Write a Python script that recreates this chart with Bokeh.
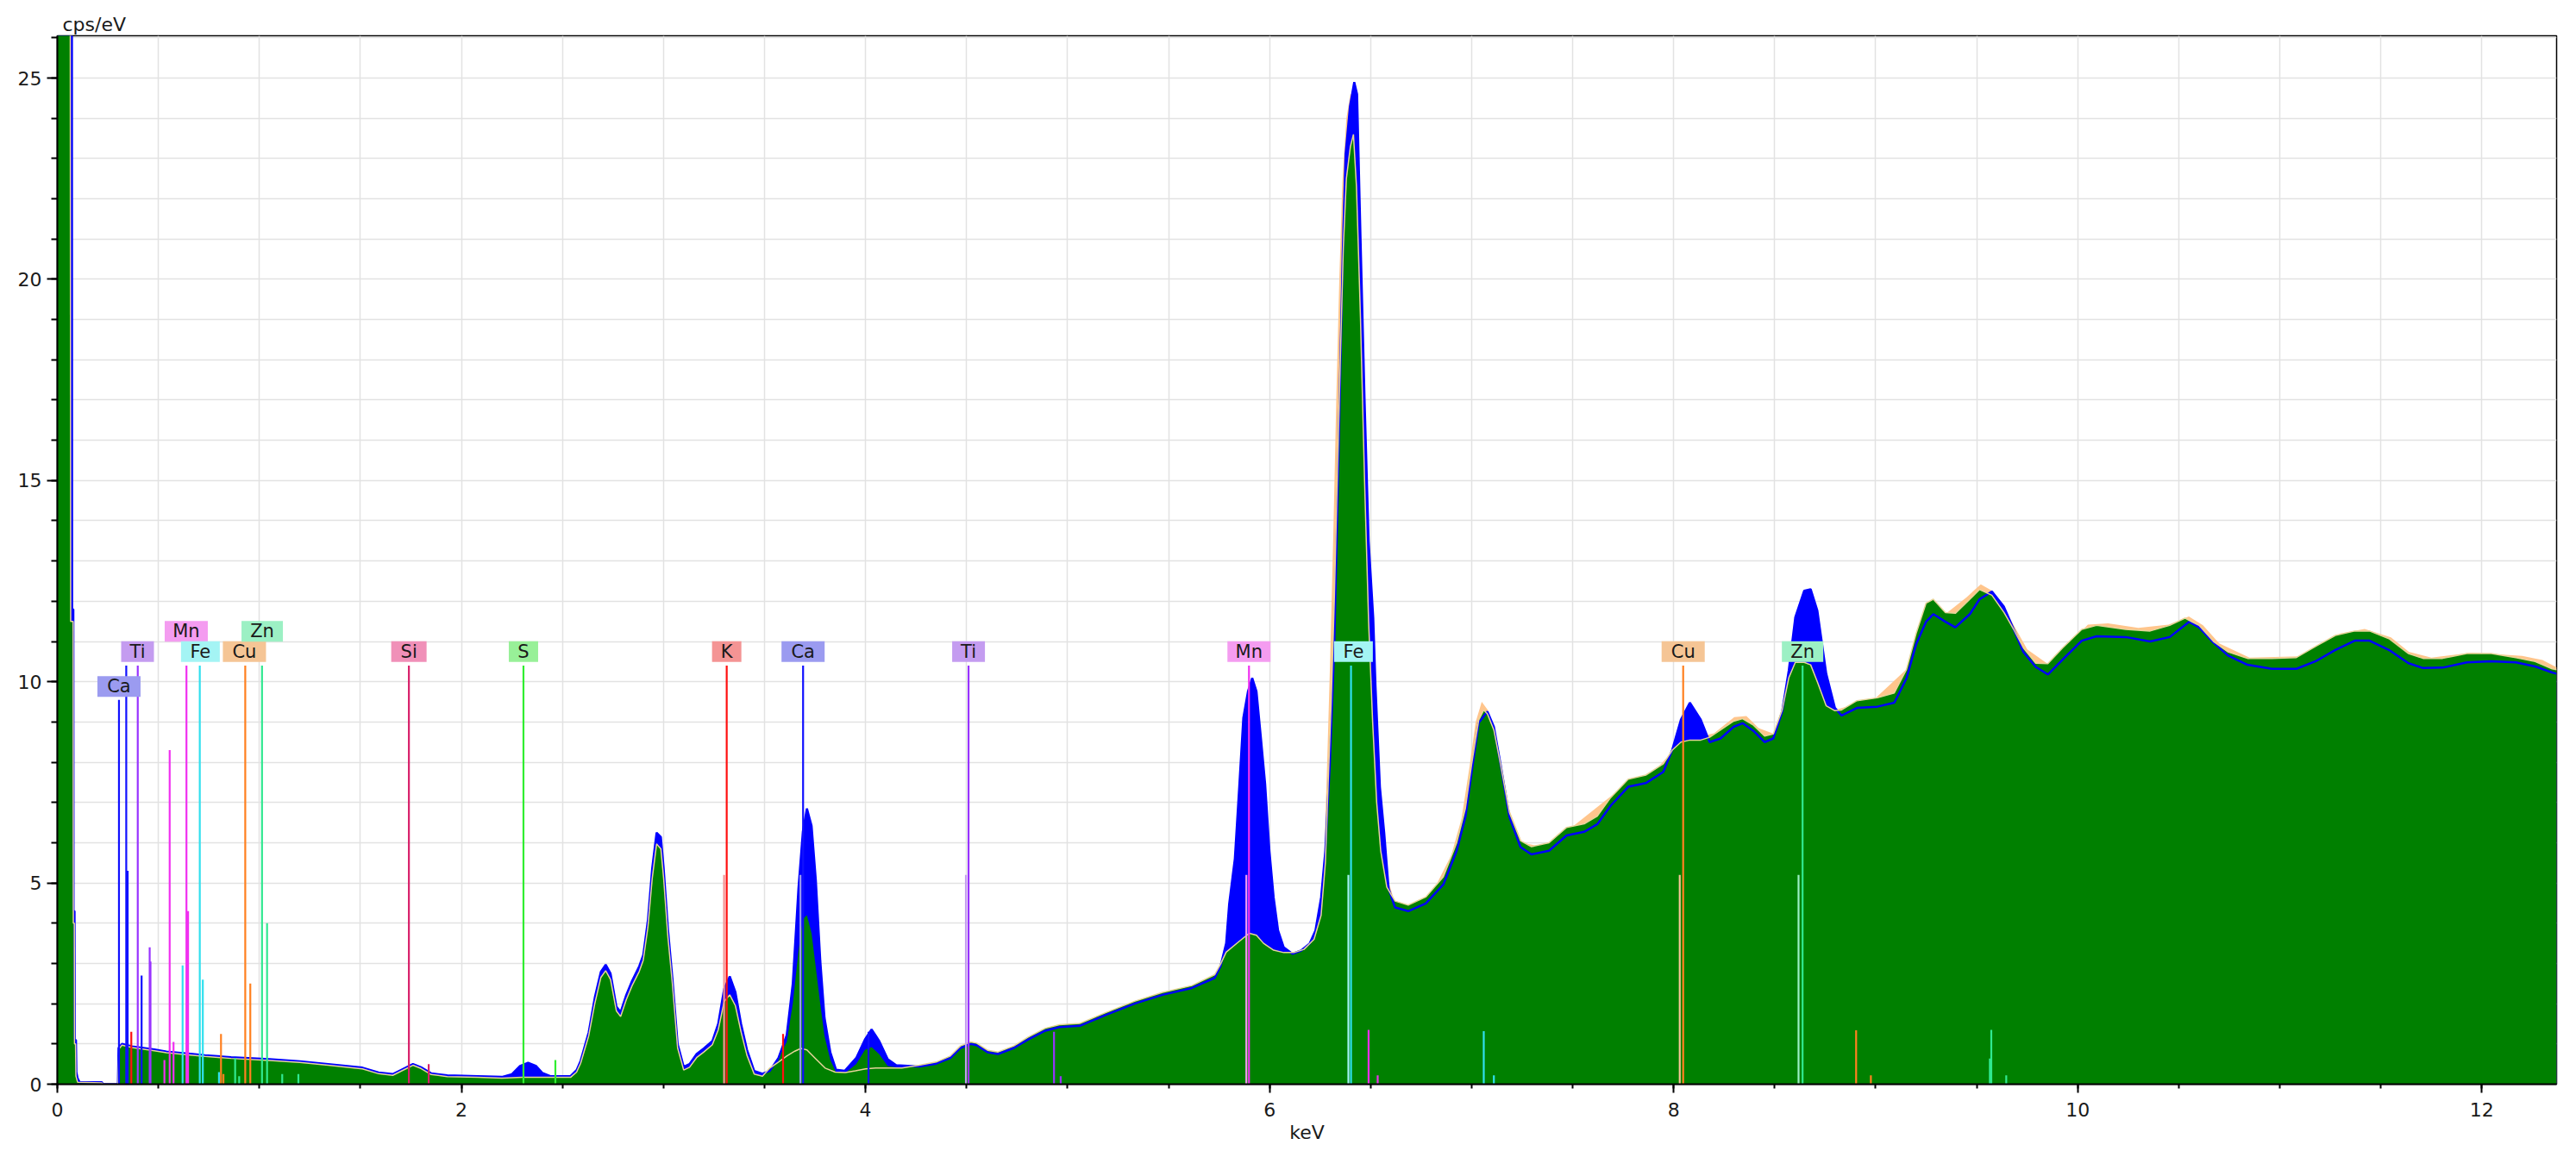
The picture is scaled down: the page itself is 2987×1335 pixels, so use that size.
from bokeh.plotting import figure
from bokeh.models import ColumnDataSource, FixedTicker, Range1d
from bokeh.core.properties import value
from bokeh.embed import file_html
from bokeh.resources import INLINE

# ---------------- data ----------------
blue_kev = [0.0, 0.072, 0.073, 0.079, 0.080, 0.085, 0.086, 0.092, 0.094, 0.10, 0.11, 0.22, 0.225, 0.30,
            0.303, 0.32, 0.37, 0.48, 0.54, 0.67, 0.73, 0.86, 1.05, 1.20, 1.34, 1.51, 1.59, 1.66, 1.72, 1.76,
            1.80, 1.85, 1.93, 2.08, 2.20, 2.25, 2.29, 2.33, 2.37, 2.40, 2.44, 2.54, 2.57, 2.59, 2.63, 2.66,
            2.69, 2.714, 2.738, 2.767, 2.788, 2.816, 2.845, 2.88, 2.90, 2.923, 2.944, 2.966, 2.987, 3.001,
            3.022, 3.044, 3.07, 3.10, 3.129, 3.164, 3.20, 3.242, 3.271, 3.30, 3.328, 3.356, 3.384, 3.413,
            3.449, 3.49, 3.526, 3.569, 3.61, 3.64, 3.668, 3.69, 3.71, 3.733, 3.754, 3.776, 3.797, 3.826,
            3.854, 3.897, 3.954, 3.997, 4.03, 4.067, 4.11, 4.152, 4.266, 4.35, 4.42, 4.47, 4.52, 4.55,
            4.606, 4.656, 4.734, 4.805, 4.89, 4.96, 5.06, 5.19, 5.331, 5.47, 5.615, 5.728, 5.757, 5.785,
            5.80, 5.828, 5.85, 5.87, 5.893, 5.914, 5.935, 5.957, 5.978, 5.999, 6.02, 6.042, 6.07, 6.113,
            6.156, 6.198, 6.227, 6.255, 6.276, 6.298, 6.32, 6.334, 6.348, 6.362, 6.376, 6.398, 6.419,
            6.433, 6.45, 6.47, 6.49, 6.513, 6.524, 6.546, 6.567, 6.589, 6.621, 6.686, 6.773, 6.86, 6.926,
            6.969, 7.0, 7.035, 7.078, 7.11, 7.143, 7.187, 7.242, 7.296, 7.383, 7.47, 7.557, 7.622, 7.688,
            7.775, 7.862, 7.949, 7.993, 8.036, 8.08, 8.134, 8.178, 8.232, 8.297, 8.341, 8.395, 8.45,
            8.493, 8.537, 8.57, 8.602, 8.646, 8.678, 8.711, 8.755, 8.798, 8.831, 8.907, 9.008, 9.092,
            9.152, 9.20, 9.249, 9.285, 9.345, 9.394, 9.466, 9.514, 9.575, 9.635, 9.683, 9.731, 9.792,
            9.852, 9.925, 10.02, 10.093, 10.237, 10.358, 10.455, 10.551, 10.60, 10.672, 10.744, 10.84,
            10.961, 11.082, 11.178, 11.275, 11.371, 11.444, 11.54, 11.637, 11.709, 11.806, 11.926,
            12.047, 12.168, 12.264, 12.348, 12.37]
blue_cps = [26.1, 26.1, 11.8, 11.8, 4.3, 4.3, 1.1, 1.1, 0.3, 0.15, 0.05, 0.05, 0.0, 0.0,
            0.90, 1.0, 0.94, 0.86, 0.81, 0.75, 0.72, 0.67, 0.62, 0.57, 0.50, 0.41, 0.29, 0.25, 0.40, 0.50,
            0.42, 0.27, 0.22, 0.20, 0.18, 0.25, 0.45, 0.53, 0.45, 0.28, 0.20, 0.20, 0.35, 0.58, 1.29, 2.15,
            2.79, 2.97, 2.75, 1.93, 1.79, 2.22, 2.57, 2.93, 3.21, 4.07, 5.35, 6.25, 6.14, 5.35,
            3.86, 2.64, 1.0, 0.43, 0.50, 0.75, 0.89, 1.07, 1.50, 2.36, 2.68, 2.29, 1.50, 0.86,
            0.33, 0.26, 0.33, 0.65, 1.22, 2.50, 4.85, 6.28, 6.85, 6.42, 5.07, 3.07, 1.65, 0.79,
            0.36, 0.33, 0.65, 1.11, 1.36, 1.08, 0.62, 0.47, 0.44, 0.51, 0.65, 0.90, 1.0, 0.97,
            0.79, 0.75, 0.90, 1.11, 1.33, 1.42, 1.45, 1.72, 2.0, 2.22, 2.39, 2.64, 2.93, 3.5,
            4.48, 5.6, 7.4, 9.1, 9.76, 10.09, 9.76, 8.6, 7.45, 5.8, 4.64, 3.82, 3.4, 3.24,
            3.32, 3.49, 3.82, 4.64, 5.8, 7.95, 10.9, 14.0, 17.3, 20.6, 23.1, 24.3, 24.9,
            24.6, 21.0, 17.0, 13.5, 11.58, 9.9, 7.38, 6.26, 4.86, 4.39, 4.3, 4.49, 4.96, 5.8,
            6.64, 7.76, 8.98, 9.26, 8.88, 7.95, 6.64, 5.89, 5.71, 5.8, 6.18, 6.27, 6.46, 6.92,
            7.39, 7.48, 7.76, 8.31, 9.06, 9.48, 9.06, 8.5, 8.59, 8.88, 8.97, 8.78, 8.5,
            8.59, 9.26, 10.29, 11.6, 12.26, 12.3, 11.77, 10.2, 9.35, 9.16, 9.35, 9.38, 9.48,
            10.08, 10.93, 11.49, 11.68, 11.49, 11.35, 11.68, 12.05, 12.24, 11.86, 11.3, 10.74, 10.37,
            10.18, 10.55, 11.02, 11.13, 11.11, 11.0, 11.11, 11.49, 11.35, 10.97, 10.65, 10.42,
            10.32, 10.32, 10.51, 10.79, 11.02, 11.02, 10.79, 10.46, 10.34, 10.35, 10.48,
            10.51, 10.48, 10.38, 10.23, 10.2]

green_kev = [0.0, 0.064, 0.066, 0.078, 0.079, 0.084, 0.085, 0.09, 0.092, 0.10, 0.22, 0.225, 0.30,
             0.305, 0.32, 0.37, 0.48, 0.54, 0.67, 0.73, 0.86, 1.05, 1.20, 1.34, 1.51, 1.59, 1.66, 1.72,
             1.76, 1.80, 1.85, 1.93, 2.08, 2.20, 2.30, 2.40, 2.54, 2.57, 2.59, 2.63, 2.66, 2.69, 2.714,
             2.738, 2.767, 2.788, 2.816, 2.845, 2.88, 2.90, 2.923, 2.944, 2.966, 2.987, 3.001, 3.022,
             3.044, 3.07, 3.10, 3.129, 3.164, 3.20, 3.242, 3.271, 3.30, 3.328, 3.356, 3.384, 3.413,
             3.449, 3.49, 3.526, 3.569, 3.61, 3.65, 3.68, 3.71, 3.75, 3.80, 3.85, 3.90, 3.95, 4.0,
             4.05, 4.11, 4.18, 4.266, 4.35, 4.42, 4.47, 4.52, 4.55, 4.606, 4.656, 4.734, 4.805, 4.89,
             4.96, 5.06, 5.19, 5.331, 5.47, 5.615, 5.728, 5.757, 5.785, 5.85, 5.90, 5.935, 5.97, 6.02,
             6.07, 6.12, 6.17, 6.22, 6.255, 6.276, 6.29, 6.305, 6.32, 6.335, 6.35, 6.365, 6.38, 6.40,
             6.415, 6.43, 6.45, 6.47, 6.49, 6.51, 6.53, 6.55, 6.58, 6.621, 6.686, 6.773, 6.86, 6.926,
             6.969, 7.0, 7.035, 7.06, 7.078, 7.11, 7.143, 7.187, 7.242, 7.296, 7.383, 7.47, 7.557,
             7.622, 7.688, 7.775, 7.862, 7.949, 7.993, 8.036, 8.08, 8.134, 8.178, 8.232, 8.297, 8.341,
             8.395, 8.45, 8.493, 8.537, 8.57, 8.602, 8.646, 8.678, 8.711, 8.755, 8.798, 8.831, 8.907,
             9.008, 9.092, 9.152, 9.20, 9.249, 9.285, 9.345, 9.394, 9.466, 9.514, 9.575, 9.635, 9.683,
             9.731, 9.792, 9.852, 9.925, 10.02, 10.093, 10.237, 10.358, 10.455, 10.53, 10.60, 10.672,
             10.744, 10.84, 10.961, 11.082, 11.178, 11.275, 11.371, 11.444, 11.54, 11.637, 11.709,
             11.806, 11.926, 12.047, 12.168, 12.264, 12.348, 12.37]
green_cps = [26.1, 26.1, 11.5, 11.5, 4.0, 4.0, 1.0, 1.0, 0.2, 0.05, 0.03, 0.0, 0.0,
             0.88, 0.97, 0.91, 0.83, 0.78, 0.72, 0.69, 0.64, 0.59, 0.54, 0.47, 0.38, 0.26, 0.22, 0.37,
             0.47, 0.39, 0.24, 0.19, 0.17, 0.15, 0.17, 0.17, 0.17, 0.30, 0.52, 1.20, 2.0, 2.65, 2.82,
             2.6, 1.82, 1.68, 2.1, 2.45, 2.8, 3.08, 3.9, 5.1, 5.97, 5.85, 5.1, 3.65,
             2.5, 0.9, 0.35, 0.42, 0.66, 0.80, 0.98, 1.35, 2.05, 2.22, 1.95, 1.30, 0.72,
             0.25, 0.20, 0.40, 0.55, 0.70, 0.82, 0.89, 0.85, 0.65, 0.40, 0.30, 0.29, 0.33, 0.38,
             0.40, 0.40, 0.40, 0.47, 0.55, 0.70, 0.95, 1.05, 1.02, 0.84, 0.80, 0.95, 1.17, 1.39,
             1.48, 1.51, 1.78, 2.06, 2.28, 2.45, 2.72, 2.98, 3.28, 3.55, 3.75, 3.70, 3.50, 3.33,
             3.27, 3.27, 3.35, 3.60, 4.2, 5.5, 7.5, 9.5, 12.0, 15.0, 18.0, 20.8, 22.5, 23.3,
             23.6, 22.3, 19.0, 15.0, 11.5, 9.0, 7.0, 5.8, 4.9, 4.55, 4.45, 4.65, 5.15, 6.0,
             6.85, 7.95, 9.05, 9.3, 9.2, 8.8, 7.95, 6.75, 6.05, 5.9, 6.0, 6.38, 6.47,
             6.66, 7.12, 7.58, 7.68, 7.96, 8.3, 8.5, 8.55, 8.55, 8.62, 8.8, 9.02, 9.08,
             8.92, 8.65, 8.7, 9.3, 10.1, 10.48, 10.48, 10.42, 10.0, 9.4, 9.28, 9.3, 9.53,
             9.6, 9.72, 10.3, 11.2, 11.95, 12.05, 11.72, 11.7, 12.05, 12.29, 12.15, 11.72, 11.3,
             10.84, 10.46, 10.45, 10.84, 11.3, 11.4, 11.3, 11.26, 11.4, 11.58, 11.4, 11.0,
             10.74, 10.58, 10.58, 10.6, 10.88, 11.15, 11.26, 11.26, 11.07, 10.7, 10.58,
             10.58, 10.7, 10.7, 10.6, 10.5, 10.32, 10.3]

# green fill of the Ca K peaks that rises above the fitted (tan) curve
ca_fill_kev = [3.569, 3.61, 3.64, 3.668, 3.69, 3.71, 3.733, 3.754, 3.776, 3.797, 3.826, 3.854, 3.897,
               3.954, 3.997, 4.03, 4.067, 4.11, 4.152]
ca_fill_cps = [0.65, 1.05, 2.0, 3.3, 4.1, 4.2, 3.75, 2.9, 2.0, 1.2, 0.6, 0.3, 0.27,
               0.5, 0.85, 0.92, 0.75, 0.45, 0.42]

peach_kev = [6.20, 6.25, 6.27, 6.285, 6.30, 6.315, 6.33, 6.345, 6.36, 6.38, 6.40, 6.415, 6.43, 6.45,
             6.47, 6.50, 6.55, 6.62, 6.70, 6.80, 6.90, 6.95, 6.99, 7.02, 7.05, 7.08, 7.12, 7.18, 7.25,
             7.35, 7.50, 7.70, 7.90, 8.00, 8.10, 8.20, 8.30, 8.36, 8.42, 8.50, 8.55, 8.60, 8.70, 8.80,
             9.00, 9.15, 9.25, 9.35, 9.45, 9.52, 9.58, 9.65, 9.75, 9.85, 9.95, 10.05, 10.15, 10.30,
             10.45, 10.55, 10.62, 10.70, 10.85, 11.10, 11.30, 11.42, 11.55, 11.64, 11.75, 11.95,
             12.20, 12.30, 12.37]
peach_cps = [3.5, 4.2, 5.6, 8.0, 10.6, 13.6, 17.0, 20.0, 22.4, 24.0, 24.6, 24.6, 22.8, 19.3,
             14.8, 10.0, 5.7, 4.5, 4.45, 4.7, 5.7, 6.6, 7.9, 9.0, 9.5, 9.3, 8.6, 6.9, 6.0,
             5.9, 6.4, 7.2, 7.75, 8.3, 8.6, 8.72, 9.12, 9.15, 8.85, 8.7, 9.4, 10.4, 10.35, 9.3,
             9.6, 10.3, 11.95, 11.7, 12.1, 12.42, 12.25, 11.7, 10.8, 10.45, 10.9, 11.42, 11.45, 11.34,
             11.42, 11.62, 11.4, 10.95, 10.6, 10.63, 11.2, 11.31, 11.1, 10.74, 10.6, 10.72,
             10.64, 10.54, 10.36]

# element marker lines: element, energy (keV), height (cps/eV), kind ('main' or 'alpha2')
line_element = ["Ca", "Ca", "Ca", "Ca", "Ti", "Ti", "Ti", "K", "Mn", "Mn", "Mn", "Mn", "Mn",
                "Fe", "Fe", "Fe", "Fe", "Cu", "Cu", "Cu", "Cu", "Zn", "Zn", "Zn", "Zn", "Zn", "Zn",
                "Si", "Si", "S", "S",
                "K", "K", "K", "Ca", "Ca", "Ca", "Ti", "Ti", "Ti", "Ti",
                "Mn", "Mn", "Mn", "Mn", "Fe", "Fe", "Fe", "Fe", "Cu", "Cu", "Cu", "Cu",
                "Zn", "Zn", "Zn", "Zn", "Zn"]
line_kev = [0.305, 0.341, 0.348, 0.417, 0.398, 0.457, 0.461, 0.366, 0.530, 0.556, 0.575, 0.639, 0.647,
            0.620, 0.705, 0.720, 0.800, 0.810, 0.822, 0.930, 0.955, 0.880, 0.900, 1.013, 1.038, 1.113, 1.193,
            1.740, 1.838, 2.307, 2.465,
            3.313, 3.300, 3.592, 3.691, 3.678, 4.015, 4.510, 4.497, 4.933, 4.966,
            5.898, 5.885, 6.490, 6.535, 6.403, 6.390, 7.060, 7.110, 8.047, 8.030, 8.903, 8.976,
            8.638, 8.618, 9.572, 9.565, 9.646]
line_height = [9.55, 10.4, 5.3, 2.7, 10.4, 3.4, 3.05, 1.3, 0.6, 8.3, 1.05, 10.4, 4.3,
               2.95, 10.4, 2.6, 0.3, 1.25, 0.25, 10.4, 2.5, 0.65, 0.2, 10.4, 4.0, 0.25, 0.25,
               10.4, 0.5, 10.4, 0.6,
               10.4, 5.2, 1.25, 10.4, 5.2, 1.3, 10.4, 5.2, 1.3, 0.2,
               10.4, 5.2, 1.35, 0.22, 10.4, 5.2, 1.32, 0.22, 10.4, 5.2, 1.34, 0.22,
               10.4, 5.2, 1.35, 0.64, 0.22]
line_kind = ["main"] * 31 + ["main", "alpha2", "main", "main", "alpha2", "main", "main", "alpha2", "main", "main",
                             "main", "alpha2", "main", "main", "main", "alpha2", "main", "main",
                             "main", "alpha2", "main", "main", "main", "alpha2", "main", "main", "main"]

# element labels
label_text = ["Ca", "Ti", "Mn", "Fe", "Cu", "Zn", "Si", "S", "K", "Ca", "Ti", "Mn", "Fe", "Cu", "Zn"]
label_kev = [0.305, 0.397, 0.638, 0.708, 0.926, 1.014, 1.740, 2.307, 3.313, 3.691, 4.510, 5.898, 6.415,
             8.047, 8.638]
label_row = ["low", "mid", "high", "mid", "mid", "high", "mid", "mid", "mid", "mid", "mid", "mid", "mid",
             "mid", "mid"]

# ---------------- styles ----------------
line_colors = {"Ca": "#1010ff", "Ti": "#9933ff", "Mn": "#f030f0", "Fe": "#30e0ee", "Cu": "#ff8020",
               "Zn": "#30e890", "Si": "#d8206a", "S": "#30ee30", "K": "#ff1010"}
box_colors = {"Ca": "#9b9bf0", "Ti": "#c49cf0", "Mn": "#f49cf0", "Fe": "#a4f4f4", "Cu": "#f5c595",
              "Zn": "#9cf0c4", "Si": "#f090b8", "S": "#98f098", "K": "#f49494"}
box_widths = {"Ca": 50, "Ti": 38, "Mn": 50, "Fe": 45, "Cu": 50, "Zn": 48, "Si": 41, "S": 34, "K": 34}
row_y = {"low": 9.88, "mid": 10.75, "high": 11.25}

FONT = "DejaVu Sans"
FS = "22px"

p = figure(width=2984, height=1330, output_backend="svg", toolbar_location=None,
           x_range=Range1d(0, 12.37), y_range=Range1d(0, 26.05),
           min_border_left=66, min_border_right=20, min_border_top=41, min_border_bottom=73)
p.background_fill_color = "white"
p.border_fill_color = "white"
p.outline_line_color = "black"
p.outline_line_width = 1.5

p.title.text = "cps/eV"
p.title.align = "left"
p.title.offset = 6
p.title.standoff = 1
p.title.text_font = FONT
p.title.text_font_size = FS
p.title.text_font_style = "normal"
p.title.text_color = "#1a1a1a"

# grid
p.xgrid.ticker = FixedTicker(ticks=[i * 0.5 for i in range(1, 25)])
p.ygrid.ticker = FixedTicker(ticks=list(range(1, 27)))
p.grid.grid_line_color = "#e2e2e2"
p.grid.grid_line_width = 1.5

# axes
p.xaxis.ticker = FixedTicker(ticks=[0, 2, 4, 6, 8, 10, 12], minor_ticks=[i * 0.5 for i in range(25)])
p.yaxis.ticker = FixedTicker(ticks=[0, 5, 10, 15, 20, 25], minor_ticks=list(range(27)))
p.xaxis.axis_label = "keV"
for ax in (p.xaxis[0], p.yaxis[0]):
    ax.axis_line_color = "black"
    ax.axis_line_width = 2
    ax.major_tick_line_color = "black"
    ax.minor_tick_line_color = "black"
    ax.major_tick_line_width = 2
    ax.minor_tick_line_width = 2
    ax.major_tick_in = 0
    ax.minor_tick_in = 0
    ax.major_label_text_font = FONT
    ax.major_label_text_font_size = FS
    ax.major_label_text_color = "#1a1a1a"
p.xaxis.major_tick_out = 10
p.xaxis.minor_tick_out = 5
p.xaxis.major_label_standoff = 11
p.yaxis.major_tick_out = 12
p.yaxis.minor_tick_out = 7
p.yaxis.major_label_standoff = 6
p.xaxis.axis_label_text_font = FONT
p.xaxis.axis_label_text_font_size = FS
p.xaxis.axis_label_text_font_style = "normal"
p.xaxis.axis_label_text_color = "#1a1a1a"
p.xaxis.axis_label_standoff = 3

# spectra
src_blue = ColumnDataSource(dict(k=blue_kev, v=blue_cps))
src_green = ColumnDataSource(dict(k=green_kev, v=green_cps))
src_ca = ColumnDataSource(dict(k=ca_fill_kev, v=ca_fill_cps))
src_peach = ColumnDataSource(dict(k=peach_kev, v=peach_cps))

p.varea(x="k", y1=0, y2="v", source=src_peach, fill_color="#ffc58c")
p.varea(x="k", y1=0, y2="v", source=src_blue, fill_color="#0000ff")
p.varea(x="k", y1=0, y2="v", source=src_green, fill_color="#008000")
p.varea(x="k", y1=0, y2="v", source=src_ca, fill_color="#008000")
p.line(x="k", y="v", source=src_blue, line_color="#0000ff", line_width=2.5)
p.line(x="k", y="v", source=src_green, line_color="#e6d49a", line_width=1.5)

# element marker lines
seg_color = [line_colors[e] if kd == "main" else box_colors[e] for e, kd in zip(line_element, line_kind)]
src_lines = ColumnDataSource(dict(x=line_kev, y0=[0] * len(line_kev), y1=line_height, c=seg_color))
p.segment(x0="x", y0="y0", x1="x", y1="y1", source=src_lines, line_color="c", line_width=2.2)

# element labels
src_lab = ColumnDataSource(dict(
    x=label_kev,
    y=[row_y[r] for r in label_row],
    t=label_text,
    w=[box_widths[t] for t in label_text],
    fc=[box_colors[t] for t in label_text],
))
p.rect(x="x", y="y", width="w", height=24, width_units="screen", height_units="screen",
       source=src_lab, fill_color="fc", line_color=None)
p.text(x="x", y="y", text="t", source=src_lab, text_align="center", text_baseline="middle",
       text_font=value(FONT), text_font_size="21px", text_color="#1a1a1a")

open("out.html", "w").write(file_html(p, INLINE))
